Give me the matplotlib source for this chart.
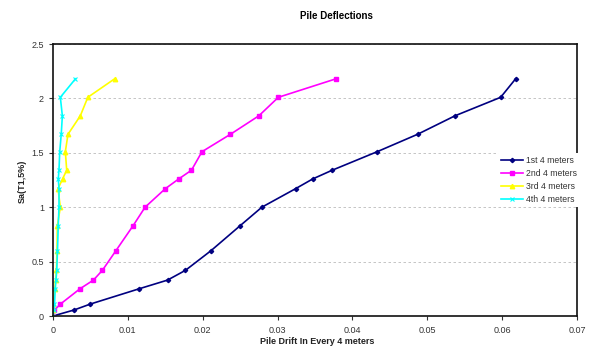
import matplotlib
matplotlib.use("Agg")
import matplotlib.pyplot as plt

# Shared Sa levels
sa_levels = [0, 0.055, 0.11, 0.25, 0.33, 0.42, 0.60, 0.83, 1.00, 1.17, 1.26, 1.34, 1.51, 1.67, 1.84, 2.01, 2.18]

drift_1st = [0, 0.0028, 0.0050, 0.0115, 0.0153, 0.0177, 0.0211, 0.0250, 0.0279, 0.0324, 0.0347, 0.0373, 0.0433, 0.0487, 0.0537, 0.0598, 0.0618]
drift_2nd = [0, 0.0002, 0.0010, 0.0036, 0.0054, 0.0066, 0.0084, 0.0107, 0.0123, 0.0150, 0.0168, 0.0185, 0.0199, 0.0237, 0.0275, 0.0301, 0.0378]
drift_3rd = [0, 0.00003, 0.00005, 0.00023, 0.00036, 0.00045, 0.00053, 0.00058, 0.00098, 0.00067, 0.00128, 0.00183, 0.00165, 0.0020, 0.00365, 0.00465, 0.00823]
drift_4th = [0, 0.0001, 0.0002, 0.0003, 0.0004, 0.0005, 0.0006, 0.0007, 0.0008, 0.0008, 0.0007, 0.0008, 0.0009, 0.0011, 0.00125, 0.00098, 0.0030]

series_names = ["1st 4 meters", "2nd 4 meters", "3rd 4 meters", "4th 4 meters"]
x_ticks = [0, 0.01, 0.02, 0.03, 0.04, 0.05, 0.06, 0.07]
x_tick_labels = ["0", "0.01", "0.02", "0.03", "0.04", "0.05", "0.06", "0.07"]
y_ticks = [0, 0.5, 1, 1.5, 2, 2.5]
y_tick_labels = ["0", "0.5", "1", "1.5", "2", "2.5"]

plt.rcParams['font.family'] = ['Liberation Sans', 'DejaVu Sans']

fig = plt.figure(figsize=(5.89, 3.47), dpi=100)
ax = fig.add_axes([53/589, 1 - 316/347, 524/589, 272/347])

ax.plot(drift_1st, sa_levels, color='#000080', marker='D', markersize=2.2, lw=1.2, label=series_names[0])
ax.plot(drift_2nd, sa_levels, color='#FF00FF', marker='s', markersize=3, lw=1.2, label=series_names[1])
ax.plot(drift_3rd, sa_levels, color='#FFFF00', marker='^', markersize=3.2, lw=1.2, label=series_names[2])
ax.plot(drift_4th, sa_levels, color='#00FFFF', marker='x', markersize=3, mew=0.8, lw=1.2, label=series_names[3])

ax.set_xlim(0, 0.07)
ax.set_ylim(0, 2.5)
ax.set_xticks(x_ticks)
ax.set_xticklabels(x_tick_labels)
ax.set_yticks(y_ticks)
ax.set_yticklabels(y_tick_labels)
ax.tick_params(labelsize=6.5, colors='#333333', length=3, width=0.8, direction='out')
ax.tick_params(axis='x', pad=4)
ax.yaxis.grid(True, linestyle=(0, (3, 3)), color='#bbbbbb', lw=0.6)
ax.set_axisbelow(True)
for s in ax.spines.values():
    s.set_color('#111111')
    s.set_linewidth(1.2)

leg = ax.legend(loc='center left', bbox_to_anchor=(0.84, 0.50), fontsize=6.2,
                frameon=True, facecolor='white', edgecolor='none', framealpha=1,
                handlelength=2.6, handletextpad=0.3, labelspacing=0.45, borderpad=0.4)
for t in leg.get_texts():
    t.set_color('#333333')

fig.text(336/589, 1 - 16/347, "Pile Deflections", ha='center', va='center', fontsize=7, fontweight='bold')
fig.text(317/589, 1 - 341/347, "Pile Drift In Every 4 meters", ha='center', va='center', fontsize=6.5, fontweight='bold', color='#222222')
fig.text(22/589, 1 - 181/347, "Sa(T1,5%)", ha='center', va='center', rotation=90, fontsize=6.5, fontweight='bold', color='#222222')

fig.savefig("out.png", dpi=100)
